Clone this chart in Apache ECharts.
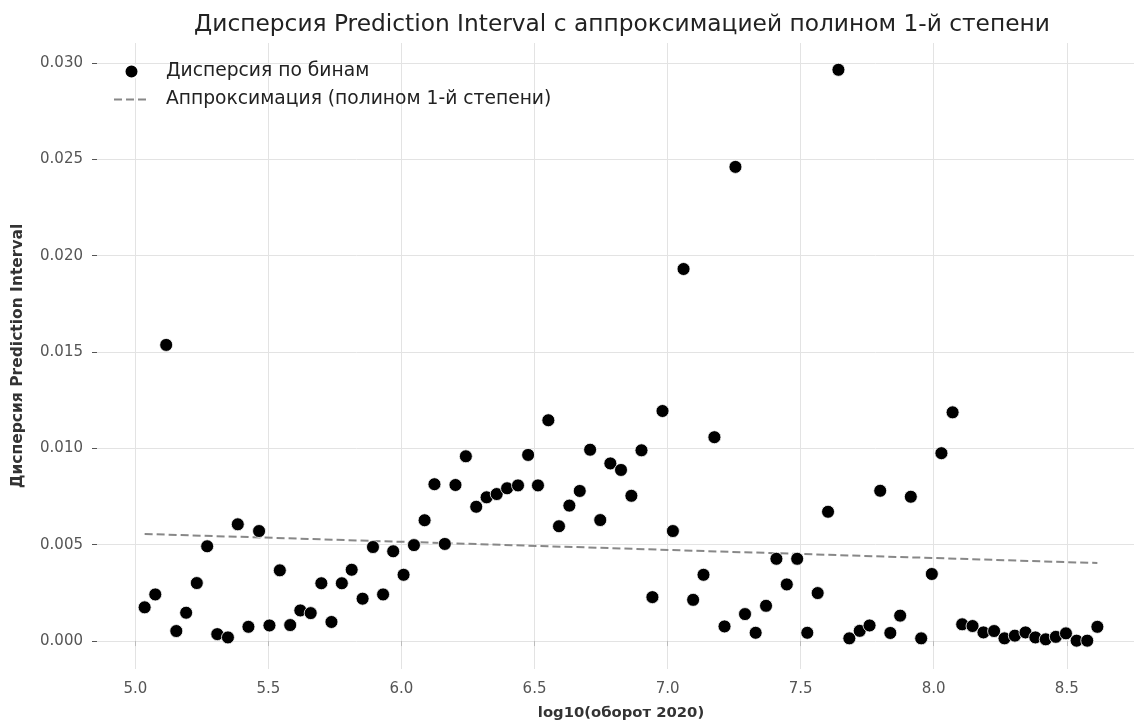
<!DOCTYPE html>
<html>
<head>
<meta charset="utf-8">
<title>Дисперсия Prediction Interval</title>
<script src="https://cdn.jsdelivr.net/npm/echarts@6/dist/echarts.min.js"></script>
<style>
  html, body { margin: 0; padding: 0; background: #fff; }
  #chart { width: 1134px; height: 724px; }
</style>
</head>
<body>
<div id="chart"></div>
<script>
// Bin centres: log10 of 2020 turnover
const binX = [
  5.035, 5.075, 5.116, 5.154, 5.191, 5.231, 5.270, 5.308, 5.348, 5.385,
  5.425, 5.465, 5.504, 5.543, 5.582, 5.620, 5.659, 5.699, 5.737, 5.776,
  5.813, 5.854, 5.893, 5.931, 5.969, 6.008, 6.047, 6.087, 6.124, 6.163,
  6.203, 6.242, 6.281, 6.320, 6.358, 6.397, 6.438, 6.476, 6.513, 6.552,
  6.592, 6.631, 6.670, 6.709, 6.747, 6.785, 6.825, 6.864, 6.902, 6.943,
  6.981, 7.020, 7.060, 7.096, 7.135, 7.176, 7.214, 7.255, 7.291, 7.331,
  7.370, 7.409, 7.448, 7.487, 7.525, 7.564, 7.603, 7.642, 7.683, 7.722,
  7.759, 7.799, 7.837, 7.874, 7.914, 7.953, 7.993, 8.029, 8.071, 8.107,
  8.146, 8.187, 8.227, 8.266, 8.305, 8.345, 8.382, 8.421, 8.459, 8.497,
  8.537, 8.577, 8.615
];

// Variance of the prediction interval in each bin
const binVariance = [
  0.00175, 0.00242, 0.01537, 0.00052, 0.00147, 0.00301, 0.00492, 0.00036, 0.00019, 0.00606,
  0.00074, 0.00571, 0.00081, 0.00367, 0.00083, 0.00159, 0.00145, 0.00300, 0.00099, 0.00300,
  0.00370, 0.00220, 0.00488, 0.00242, 0.00466, 0.00344, 0.00498, 0.00627, 0.00814, 0.00504,
  0.00810, 0.00959, 0.00697, 0.00746, 0.00763, 0.00793, 0.00808, 0.00966, 0.00808, 0.01146,
  0.00596, 0.00703, 0.00779, 0.00993, 0.00628, 0.00922, 0.00888, 0.00754, 0.00990, 0.00228,
  0.01194, 0.00571, 0.01931, 0.00214, 0.00344, 0.01058, 0.00076, 0.02461, 0.00140, 0.00043,
  0.00183, 0.00427, 0.00294, 0.00427, 0.00043, 0.00249, 0.00671, 0.02965, 0.00014, 0.00053,
  0.00081, 0.00780, 0.00042, 0.00132, 0.00749, 0.00014, 0.00348, 0.00975, 0.01187, 0.00087,
  0.00078, 0.00045, 0.00052, 0.00014, 0.00028, 0.00045, 0.00019, 0.00009, 0.00022, 0.00040,
  0.00002, 0.00002, 0.00074
];

// Degree-1 polynomial fit, evaluated at the ends of the bin range
const fitX = [5.035, 8.615];
const fitY = [0.00556, 0.00405];

// Tick positions
const xTicks = [5.0, 5.5, 6.0, 6.5, 7.0, 7.5, 8.0, 8.5];
const yTicks = [0.000, 0.005, 0.010, 0.015, 0.020, 0.025, 0.030];

const FONT = '"DejaVu Sans", "Noto Sans", sans-serif';

const scatterData = binX.map((x, i) => [x, binVariance[i]]);
const fitData = fitX.map((x, i) => [x, fitY[i]]);

const chart = echarts.init(document.getElementById('chart'), null, { renderer: 'canvas' });

chart.setOption({
  backgroundColor: '#ffffff',
  animation: false,
  textStyle: { fontFamily: FONT },
  title: {
    text: 'Дисперсия Prediction Interval с аппроксимацией полином 1-й степени',
    left: 617,
    textAlign: 'center',
    top: 8,
    textStyle: { fontFamily: FONT, fontSize: 23.3, fontWeight: 'normal', color: '#222' }
  },
  legend: {
    orient: 'vertical',
    left: 108,
    top: 57,
    itemWidth: 35,
    itemHeight: 14,
    itemGap: 9,
    textStyle: { fontFamily: FONT, fontSize: 18.7, color: '#222', padding: [0, 0, 0, 12] },
    data: [
      { name: 'Дисперсия по бинам' },
      // the fit line has no markers, so its legend entry shows only the dashed stroke
      { name: 'Аппроксимация (полином 1-й степени)', itemStyle: { opacity: 0 } }
    ]
  },
  grid: { left: 97, right: -11, top: 43, bottom: 55, containLabel: false, outerBoundsMode: 'none' },
  xAxis: {
    type: 'value',
    min: 4.856,
    max: 8.794,
    name: 'log10(оборот 2020)',
    nameLocation: 'middle',
    nameGap: 37,
    nameTextStyle: { fontFamily: FONT, fontSize: 14.8, fontWeight: 'bold', color: '#333' },
    axisLine: { show: false },
    axisTick: { show: true, length: 5, lineStyle: { color: '#bbb' }, customValues: xTicks },
    axisLabel: {
      customValues: xTicks,
      margin: 13,
      fontFamily: FONT, fontSize: 15, color: '#555',
      formatter: v => v.toFixed(1)
    },
    splitLine: { show: true, lineStyle: { color: '#e3e3e3', width: 1 } }
  },
  yAxis: {
    type: 'value',
    min: -0.00145,
    max: 0.03104,
    name: 'Дисперсия Prediction Interval',
    nameLocation: 'middle',
    nameGap: 71,
    nameRotate: 90,
    nameTextStyle: { fontFamily: FONT, fontSize: 15.5, fontWeight: 'bold', color: '#333' },
    axisLine: { show: false },
    axisTick: { show: true, length: 5, lineStyle: { color: '#555' }, customValues: yTicks },
    axisLabel: {
      customValues: yTicks,
      margin: 14,
      fontFamily: FONT, fontSize: 15, color: '#555',
      formatter: v => v.toFixed(3)
    },
    splitLine: { show: true, lineStyle: { color: '#e3e3e3', width: 1 } }
  },
  series: [
    {
      name: 'Дисперсия по бинам',
      type: 'scatter',
      symbol: 'circle',
      symbolSize: 13,
      itemStyle: { color: '#000', borderColor: '#fff', borderWidth: 0.8, opacity: 1 },
      data: scatterData,
      z: 3
    },
    {
      name: 'Аппроксимация (полином 1-й степени)',
      type: 'line',
      symbol: 'none',
      showSymbol: false,
      lineStyle: { color: '#888', width: 2, type: [8, 4] },
      itemStyle: { color: '#888' },
      data: fitData,
      z: 2
    }
  ]
});
</script>
</body>
</html>
